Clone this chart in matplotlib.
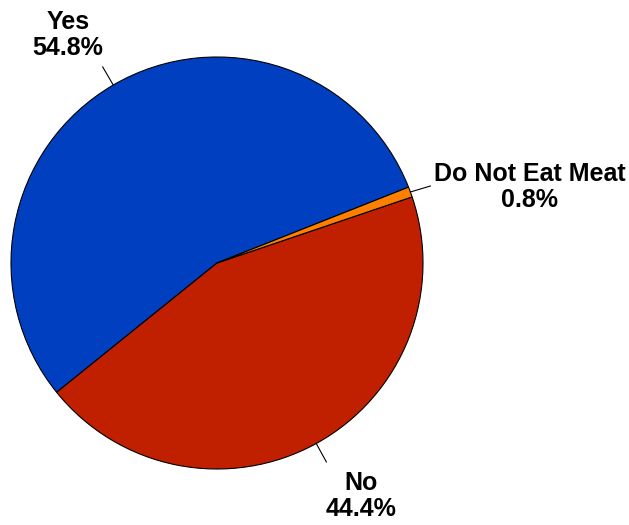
import matplotlib.pyplot as plt
import numpy as np

labels = ["Yes", "No", "Do Not Eat Meat"]
values = [54.8, 44.4, 0.8]
colors = ["#0040C0", "#C02000", "#FF8000"]

W, H = 629, 525
fig = plt.figure(figsize=(W / 100, H / 100), dpi=100)
ax = fig.add_axes([0, 0, 1, 1])

cx, cy, r = 217, H - 263, 206
start = 21.6
wedges, _ = ax.pie(values, colors=colors, startangle=start, counterclock=True,
                   center=(cx, cy), radius=r, frame=True,
                   wedgeprops=dict(edgecolor="black", linewidth=0.8))
ax.set_xlim(0, W)
ax.set_ylim(0, H)
ax.set_aspect("equal")
ax.axis("off")

# label placement (pixel coords of text centre)
text_pos = {"Yes": (68, H - 35), "No": (361, H - 496), "Do Not Eat Meat": (530, H - 187)}
for w, lab, v in zip(wedges, labels, values):
    mid = np.deg2rad((w.theta1 + w.theta2) / 2)
    x0, y0 = cx + r * np.cos(mid), cy + r * np.sin(mid)
    if lab == "Do Not Eat Meat":
        x1, y1 = x0 + 20, y0 + 6
    else:
        x1, y1 = cx + (r + 21) * np.cos(mid), cy + (r + 21) * np.sin(mid)
    ax.plot([x0, x1], [y0, y1], color="black", lw=0.8)
    tx, ty = text_pos[lab]
    ax.text(tx, ty, f"{lab}\n{v}%", ha="center", va="center",
            fontsize=18, fontweight="bold", family="Liberation Sans",
            linespacing=1.1)

fig.savefig("out.png", dpi=100)
